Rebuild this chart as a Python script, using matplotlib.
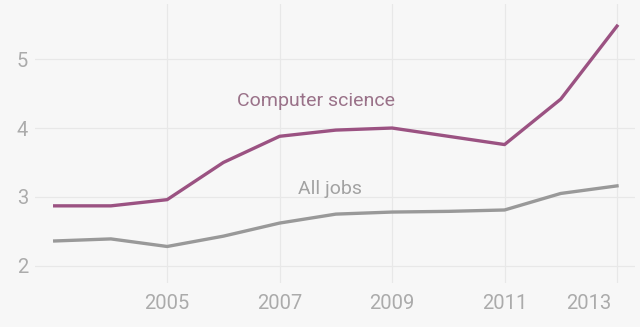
import numpy as np
import matplotlib.pyplot as plt
import matplotlib.transforms as mtransforms

years = [2003, 2004, 2005, 2006, 2007, 2008, 2009, 2010, 2011, 2012, 2013]
comp_sci = [2.87, 2.87, 2.96, 3.50, 3.88, 3.97, 4.00, 3.88, 3.76, 4.42, 5.48]
all_jobs = [2.36, 2.39, 2.28, 2.43, 2.62, 2.75, 2.78, 2.79, 2.81, 3.05, 3.16]
x_ticks = [2005, 2007, 2009, 2011, 2013]
y_ticks = [2, 3, 4, 5]

bg = '#f7f7f7'
purple = '#9b5282'
gray = '#999999'
tick_col = '#ababab'

plt.rcParams['font.family'] = ['Roboto', 'DejaVu Sans']

fig = plt.figure(figsize=(6.4, 3.27), dpi=100, facecolor=bg)
ax = fig.add_axes([0.0547, 0.1346, 0.9375, 0.853], facecolor=bg)

ax.plot(years, comp_sci, color=purple, lw=2.4, solid_joinstyle='round')
ax.plot(years, all_jobs, color=gray, lw=2.4, solid_joinstyle='round')

ax.text(2007.65, 4.39, 'Computer science', color='#9a7289', fontsize=14,
        ha='center', va='center')
ax.text(2007.9, 3.12, 'All jobs', color='#a2a2a2', fontsize=14,
        ha='center', va='center')

ax.set_xlim(2002.65, 2013.32)
ax.set_ylim(1.75, 5.8)
ax.set_xticks(x_ticks)
ax.set_yticks(y_ticks)
ax.grid(True, color='#e8e8e8', lw=0.9)
ax.set_axisbelow(True)
for s in ax.spines.values():
    s.set_visible(False)
ax.tick_params(length=0, colors=tick_col, labelsize=14.5)
ax.tick_params(axis='x', pad=8)
ax.tick_params(axis='y', pad=5)

# last year label is pulled inside the frame
fig.canvas.draw()
last = ax.get_xticklabels()[-1]
last.set_horizontalalignment('right')
last.set_transform(last.get_transform() + mtransforms.ScaledTranslation(-0.06, 0, fig.dpi_scale_trans))

fig.savefig('out.png', dpi=100, facecolor=bg)
